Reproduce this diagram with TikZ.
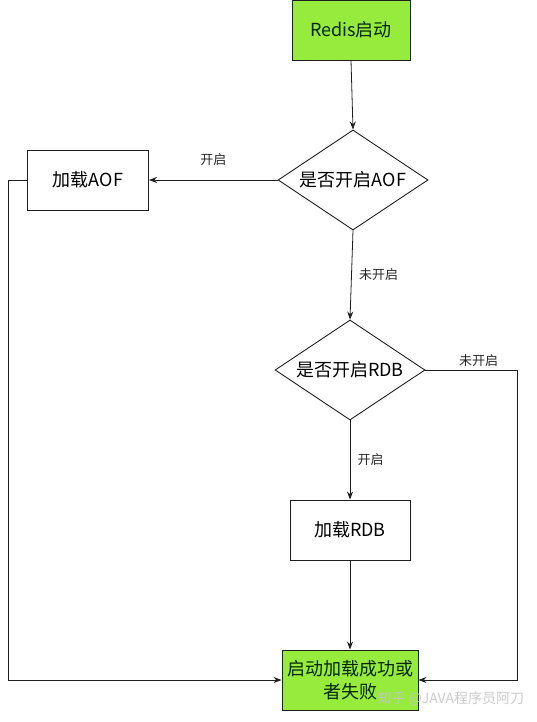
\documentclass[tikz,border=0pt]{standalone}
\usepackage{fontspec}
\setmainfont{Noto Sans CJK SC}
\usetikzlibrary{shapes.geometric,arrows.meta}
\definecolor{boxgreen}{RGB}{150,235,60}
\definecolor{edge}{RGB}{30,30,30}
\tikzset{
  box/.style={draw=edge,line width=0.9pt,minimum width=120pt,minimum height=60pt,inner sep=0pt,font=\fontsize{18}{21}\selectfont,align=center},
  gbox/.style={box,fill=boxgreen,text=black!85!green},
  decide/.style={diamond,draw=edge,line width=0.9pt,shape aspect=1.5,minimum width=150pt,minimum height=100pt,inner sep=0pt,font=\fontsize{18}{21}\selectfont},
  conn/.style={draw=edge,line width=0.8pt,-{Stealth[length=8pt,width=6pt]}},
  lbl/.style={font=\fontsize{13}{15}\selectfont,text=black!85}
}
\begin{document}
\begin{tikzpicture}[x=1pt,y=-1pt]
\useasboundingbox (0,0) rectangle (537,722);
\node[gbox,minimum width=118pt] (start) at (351,30) {Redis启动};
\node[decide] (aof) at (353,180) {是否开启AOF};
\node[box,minimum width=121pt] (laof) at (88,180) {加载AOF};
\node[decide] (rdb) at (350,370) {是否开启RDB};
\node[box] (lrdb) at (350,530) {加载RDB};
\node[gbox,minimum width=136pt,font=\fontsize{18}{23}\selectfont] (done) at (350,680) {启动加载成功或\\者失败};
\coordinate (lt) at (8,180);
\coordinate (lb) at (8,680);
\coordinate (rt) at (517,370);
\coordinate (rb) at (517,680);
\draw[conn] (start.south) -- (aof.north);
\draw[conn] (aof.west) -- node[lbl,above=11pt] {开启} (laof.east);
\draw[conn] (aof.south) -- node[lbl,right=4pt] {未开启} (rdb.north);
\draw[conn] (rdb.south) -- node[lbl,right=4pt] {开启} (lrdb.north);
\draw[conn] (lrdb.south) -- (done.north);
\draw[conn] (laof.west) -- (lt) -- (lb) -- (done.west);
\draw[conn] (rdb.east) -- node[lbl,above=0pt,pos=0.58] {未开启} (rt) -- (rb) -- (done.east);
\node[font=\fontsize{14}{16}\selectfont,text=gray!45,opacity=0.9,anchor=west] (wm) at (374,699) {知乎 @JAVA程序员阿刀};
\end{tikzpicture}
\end{document}
